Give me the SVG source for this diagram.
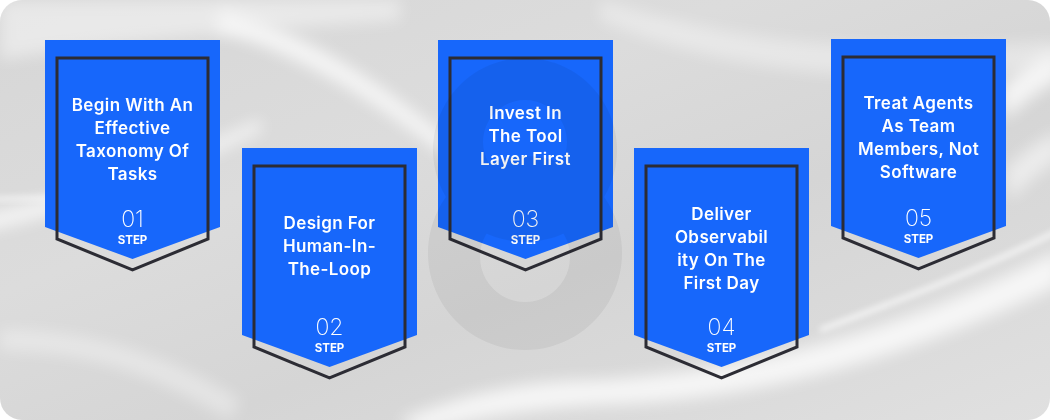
<svg xmlns="http://www.w3.org/2000/svg" width="1050" height="420" viewBox="0 0 1050 420">
  <defs>
    <linearGradient id="bg" x1="0" y1="0" x2="1" y2="1">
      <stop offset="0" stop-color="#d6d6d6"/>
      <stop offset="0.35" stop-color="#dcdcdc"/>
      <stop offset="0.6" stop-color="#d5d5d5"/>
      <stop offset="1" stop-color="#e0e0e0"/>
    </linearGradient>
    <filter id="blur" x="-20%" y="-50%" width="140%" height="200%">
      <feGaussianBlur stdDeviation="8"/>
    </filter>
    <filter id="blur2" x="-20%" y="-50%" width="140%" height="200%">
      <feGaussianBlur stdDeviation="3"/>
    </filter>
    <clipPath id="clip">
      <rect x="0" y="0" width="1050" height="420" rx="22"/>
    </clipPath>
    <style>
      .blue { fill: #1767fb; }
      .outline { fill: none; stroke: #2c2c34; stroke-width: 3; stroke-linejoin: miter; }
      .title { font-family: Inter, "Liberation Sans", sans-serif; font-weight: 600; font-size: 17px; letter-spacing: 0.4px; fill: #ffffff; text-anchor: middle; }
      .num { font-family: Inter, "Liberation Sans", sans-serif; font-weight: 200; font-size: 23px; fill: #ffffff; text-anchor: middle; }
      .step { font-family: Inter, "Liberation Sans", sans-serif; font-weight: 700; font-size: 11.5px; fill: #ffffff; text-anchor: middle; }
    </style>
  </defs>

  <rect x="0" y="0" width="1050" height="420" fill="#ffffff"/>
  <g id="background" clip-path="url(#clip)">
    <rect x="0" y="0" width="1050" height="420" fill="url(#bg)"/>
    <g fill="#ffffff" opacity="0.75">
      <path d="M-20 215 C 60 200 150 170 260 120 L 262 130 C 150 185 60 215 -20 232 Z" filter="url(#blur)"/>
      <path d="M-20 200 C 40 195 80 205 140 190" stroke="#ffffff" stroke-width="4" fill="none" filter="url(#blur2)"/>
      <path d="M220 10 C 300 30 380 80 460 150 L 450 160 C 370 95 290 50 215 30 Z" filter="url(#blur)"/>
      <path d="M600 0 C 700 30 820 60 1060 40 L 1060 70 C 820 90 700 60 600 20 Z" filter="url(#blur)" opacity="0.5"/>
      <path d="M1000 90 C 1020 70 1040 55 1060 50 L 1060 80 C 1040 90 1020 105 1005 120 Z" filter="url(#blur)"/>
      <path d="M1005 170 C 1025 150 1040 140 1060 130 L 1060 160 C 1040 170 1025 185 1010 200 Z" filter="url(#blur)" opacity="0.7"/>
      <path d="M400 420 C 460 395 520 380 600 380 C 760 370 900 330 1060 250 L 1060 285 C 900 360 760 400 600 405 C 520 410 460 420 420 435 Z" filter="url(#blur)"/>
      <path d="M820 330 C 900 300 980 270 1060 230" stroke="#ffffff" stroke-width="5" fill="none" filter="url(#blur2)"/>
      <path d="M0 330 C 80 330 160 350 240 400 L 230 420 C 150 370 80 350 0 350 Z" filter="url(#blur)" opacity="0.5"/>
      <path d="M0 0 L 400 0 L 400 20 C 250 30 120 40 0 60 Z" filter="url(#blur)" opacity="0.6"/>
    </g>
  </g>

  <g id="connectors"></g>

  <g id="step1">
    <path class="blue" d="M45 40 H220 V227 L132.5 259 L45 227 Z"/>
    <path class="outline" d="M57 58 H208 V239 L132.5 270 L57 239 Z"/>
    <text class="title" x="132.5" y="111">Begin With An</text>
    <text class="title" x="132.5" y="134">Effective</text>
    <text class="title" x="132.5" y="157">Taxonomy Of</text>
    <text class="title" x="132.5" y="180">Tasks</text>
    <text class="num" x="132.5" y="227">01</text>
    <text class="step" x="132.5" y="244">STEP</text>
  </g>

  <g id="step2">
    <path class="blue" d="M242 148 H417 V335 L329.5 367 L242 335 Z"/>
    <path class="outline" d="M254 166 H405 V347 L329.5 378 L254 347 Z"/>
    <text class="title" x="329.5" y="229">Design For</text>
    <text class="title" x="329.5" y="252">Human-In-</text>
    <text class="title" x="329.5" y="275">The-Loop</text>
    <text class="num" x="329.5" y="335">02</text>
    <text class="step" x="329.5" y="352">STEP</text>
  </g>

  <g id="step3">
    <path class="blue" d="M438 40 H613 V227 L525.5 259 L438 227 Z"/>
    <path class="outline" d="M450 58 H601 V239 L525.5 270 L450 239 Z"/>
    <text class="title" x="525.5" y="119">Invest In</text>
    <text class="title" x="525.5" y="142">The Tool</text>
    <text class="title" x="525.5" y="165">Layer First</text>
    <text class="num" x="525.5" y="227">03</text>
    <text class="step" x="525.5" y="244">STEP</text>
  </g>

  <g id="step4">
    <path class="blue" d="M634 148 H809 V335 L721.5 367 L634 335 Z"/>
    <path class="outline" d="M646 166 H797 V347 L721.5 378 L646 347 Z"/>
    <text class="title" x="721.5" y="220">Deliver</text>
    <text class="title" x="721.5" y="243">Observabil</text>
    <text class="title" x="721.5" y="266">ity On The</text>
    <text class="title" x="721.5" y="289">First Day</text>
    <text class="num" x="721.5" y="335">04</text>
    <text class="step" x="721.5" y="352">STEP</text>
  </g>

  <g id="step5">
    <path class="blue" d="M831 39 H1006 V226 L918.5 258 L831 226 Z"/>
    <path class="outline" d="M843 57 H994 V238 L918.5 269 L843 238 Z"/>
    <text class="title" x="918.5" y="109">Treat Agents</text>
    <text class="title" x="918.5" y="132">As Team</text>
    <text class="title" x="918.5" y="155">Members, Not</text>
    <text class="title" x="918.5" y="178">Software</text>
    <text class="num" x="918.5" y="226">05</text>
    <text class="step" x="918.5" y="243">STEP</text>
  </g>

  <!-- faint watermark "8" overlaid -->
  <g id="watermark" fill="#000000" fill-rule="evenodd" opacity="0.05">
    <path d="M525 58 a 92 92 0 1 0 0.01 0 Z M525 100 a 42 42 0 1 0 0.01 0 Z"/>
    <path d="M525 156 a 97 97 0 1 0 0.01 0 Z M525 212 a 45 45 0 1 0 0.01 0 Z"/>
  </g>
</svg>
